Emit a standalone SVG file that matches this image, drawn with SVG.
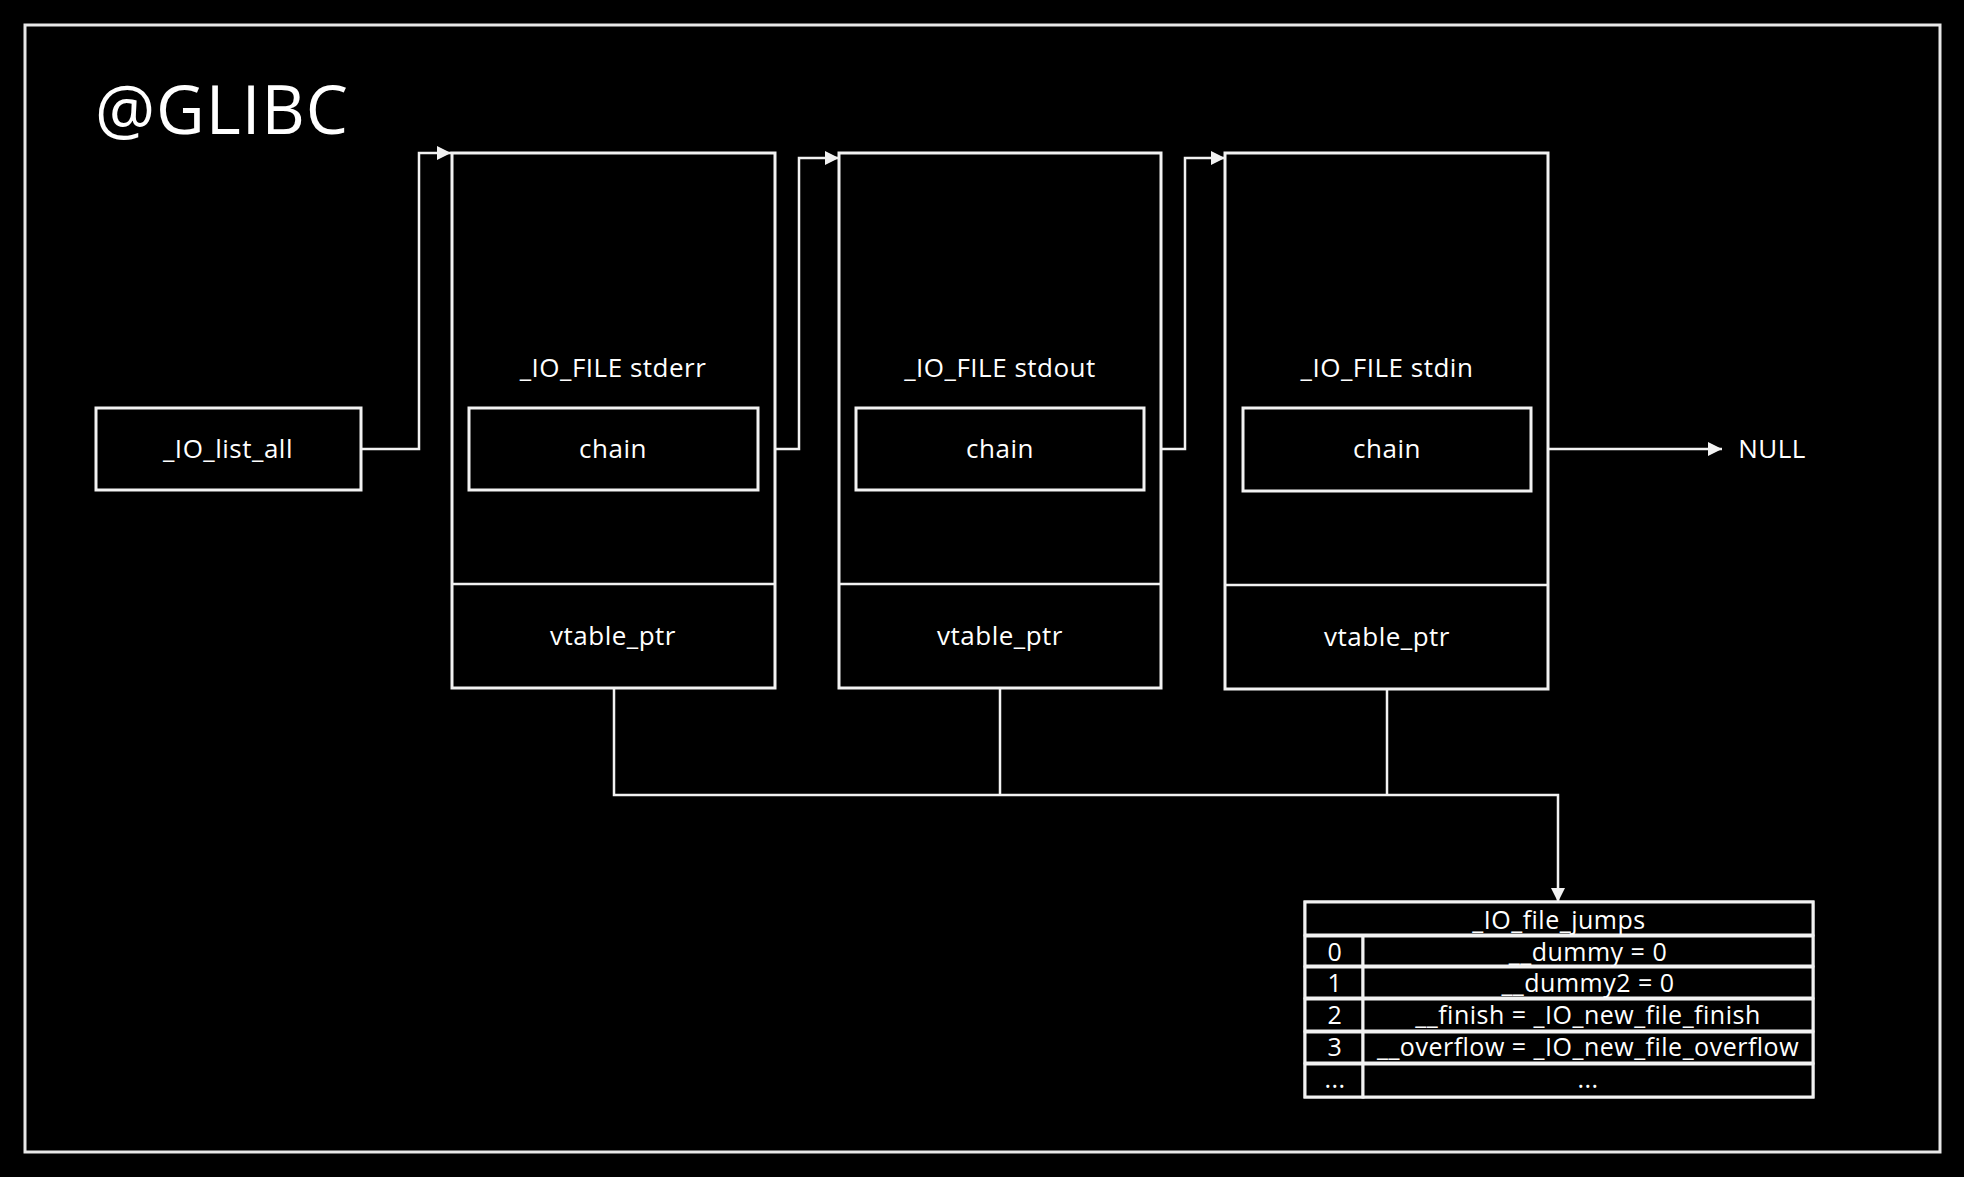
<svg xmlns="http://www.w3.org/2000/svg" width="1964" height="1177" viewBox="0 0 1964 1177">
<defs>
<style>
.bx{fill:#000;stroke:#f2f2f2;stroke-width:3}
.ln{fill:none;stroke:#f2f2f2;stroke-width:2.5}
.t{font-family:"Open Sans","Liberation Sans",sans-serif;font-size:26px;letter-spacing:0.5px;fill:#fff;text-anchor:middle}
.tt{font-family:"Open Sans","Liberation Sans",sans-serif;font-size:25px;letter-spacing:0.5px;fill:#fff;text-anchor:middle}
</style>
<marker id="ah" markerUnits="userSpaceOnUse" markerWidth="15" markerHeight="14" refX="14" refY="7" orient="auto">
<path d="M0,0 L14,7 L0,14 z" fill="#f2f2f2"/>
</marker>
</defs>
<rect width="1964" height="1177" fill="#000"/>
<rect x="25" y="25" width="1915" height="1127" fill="none" stroke="#e8e8e8" stroke-width="3"/>
<text x="95" y="134" font-family="Open Sans, Liberation Sans, sans-serif" font-size="67" letter-spacing="1" fill="#fff">@GLIBC</text>

<g id="connectors">
<path class="ln" d="M361,449 H419 V153 H451" marker-end="url(#ah)"/>
<path class="ln" d="M758,449 H799 V158 H839" marker-end="url(#ah)"/>
<path class="ln" d="M1144,449 H1185 V158 H1225" marker-end="url(#ah)"/>
<path class="ln" d="M1531,449 H1722" marker-end="url(#ah)"/>
<path class="ln" d="M614,688 V795 H1558 V902" marker-end="url(#ah)"/>
<path class="ln" d="M1000,688 V795"/>
<path class="ln" d="M1387,689 V795"/>
</g>

<g id="io_list_all">
<rect class="bx" x="96" y="408" width="265" height="82"/>
<text class="t" x="228" y="458">_IO_list_all</text>
</g>

<g id="stderr">
<rect class="bx" x="452" y="153" width="323" height="535"/>
<line class="ln" x1="452" y1="584" x2="775" y2="584" stroke-width="3"/>
<text class="t" x="613" y="377">_IO_FILE stderr</text>
<rect class="bx" x="469" y="408" width="289" height="82"/>
<text class="t" x="613" y="458">chain</text>
<text class="t" x="613" y="645">vtable_ptr</text>
</g>

<g id="stdout">
<rect class="bx" x="839" y="153" width="322" height="535"/>
<line class="ln" x1="839" y1="584" x2="1161" y2="584" stroke-width="3"/>
<text class="t" x="1000" y="377">_IO_FILE stdout</text>
<rect class="bx" x="856" y="408" width="288" height="82"/>
<text class="t" x="1000" y="458">chain</text>
<text class="t" x="1000" y="645">vtable_ptr</text>
</g>

<g id="stdin">
<rect class="bx" x="1225" y="153" width="323" height="536"/>
<line class="ln" x1="1225" y1="585" x2="1548" y2="585" stroke-width="3"/>
<text class="t" x="1387" y="377">_IO_FILE stdin</text>
<rect class="bx" x="1243" y="408" width="288" height="83"/>
<text class="t" x="1387" y="458">chain</text>
<text class="t" x="1387" y="646">vtable_ptr</text>
</g>

<g id="null">
<text class="t" x="1772" y="458">NULL</text>
</g>

<g id="io_file_jumps">
<rect class="bx" x="1305" y="902" width="508" height="195"/>
<rect class="bx" x="1305" y="902" width="508" height="33"/>
<rect class="bx" x="1305" y="936" width="58" height="30"/>
<rect class="bx" x="1363" y="936" width="450" height="30"/>
<rect class="bx" x="1305" y="967" width="58" height="31"/>
<rect class="bx" x="1363" y="967" width="450" height="31"/>
<rect class="bx" x="1305" y="999" width="58" height="32"/>
<rect class="bx" x="1363" y="999" width="450" height="32"/>
<rect class="bx" x="1305" y="1032" width="58" height="31"/>
<rect class="bx" x="1363" y="1032" width="450" height="31"/>
<rect class="bx" x="1305" y="1064" width="58" height="33"/>
<rect class="bx" x="1363" y="1064" width="450" height="33"/>
<text class="tt" x="1559" y="929">_IO_file_jumps</text>
<text class="tt" x="1335" y="961">0</text>
<text class="tt" x="1588" y="961">__dummy = 0</text>
<text class="tt" x="1335" y="992">1</text>
<text class="tt" x="1588" y="992">__dummy2 = 0</text>
<text class="tt" x="1335" y="1024">2</text>
<text class="tt" x="1588" y="1024">__finish = _IO_new_file_finish</text>
<text class="tt" x="1335" y="1056">3</text>
<text class="tt" x="1588" y="1056">__overflow = _IO_new_file_overflow</text>
<text class="tt" x="1335" y="1088">...</text>
<text class="tt" x="1588" y="1088">...</text>
</g>
</svg>
